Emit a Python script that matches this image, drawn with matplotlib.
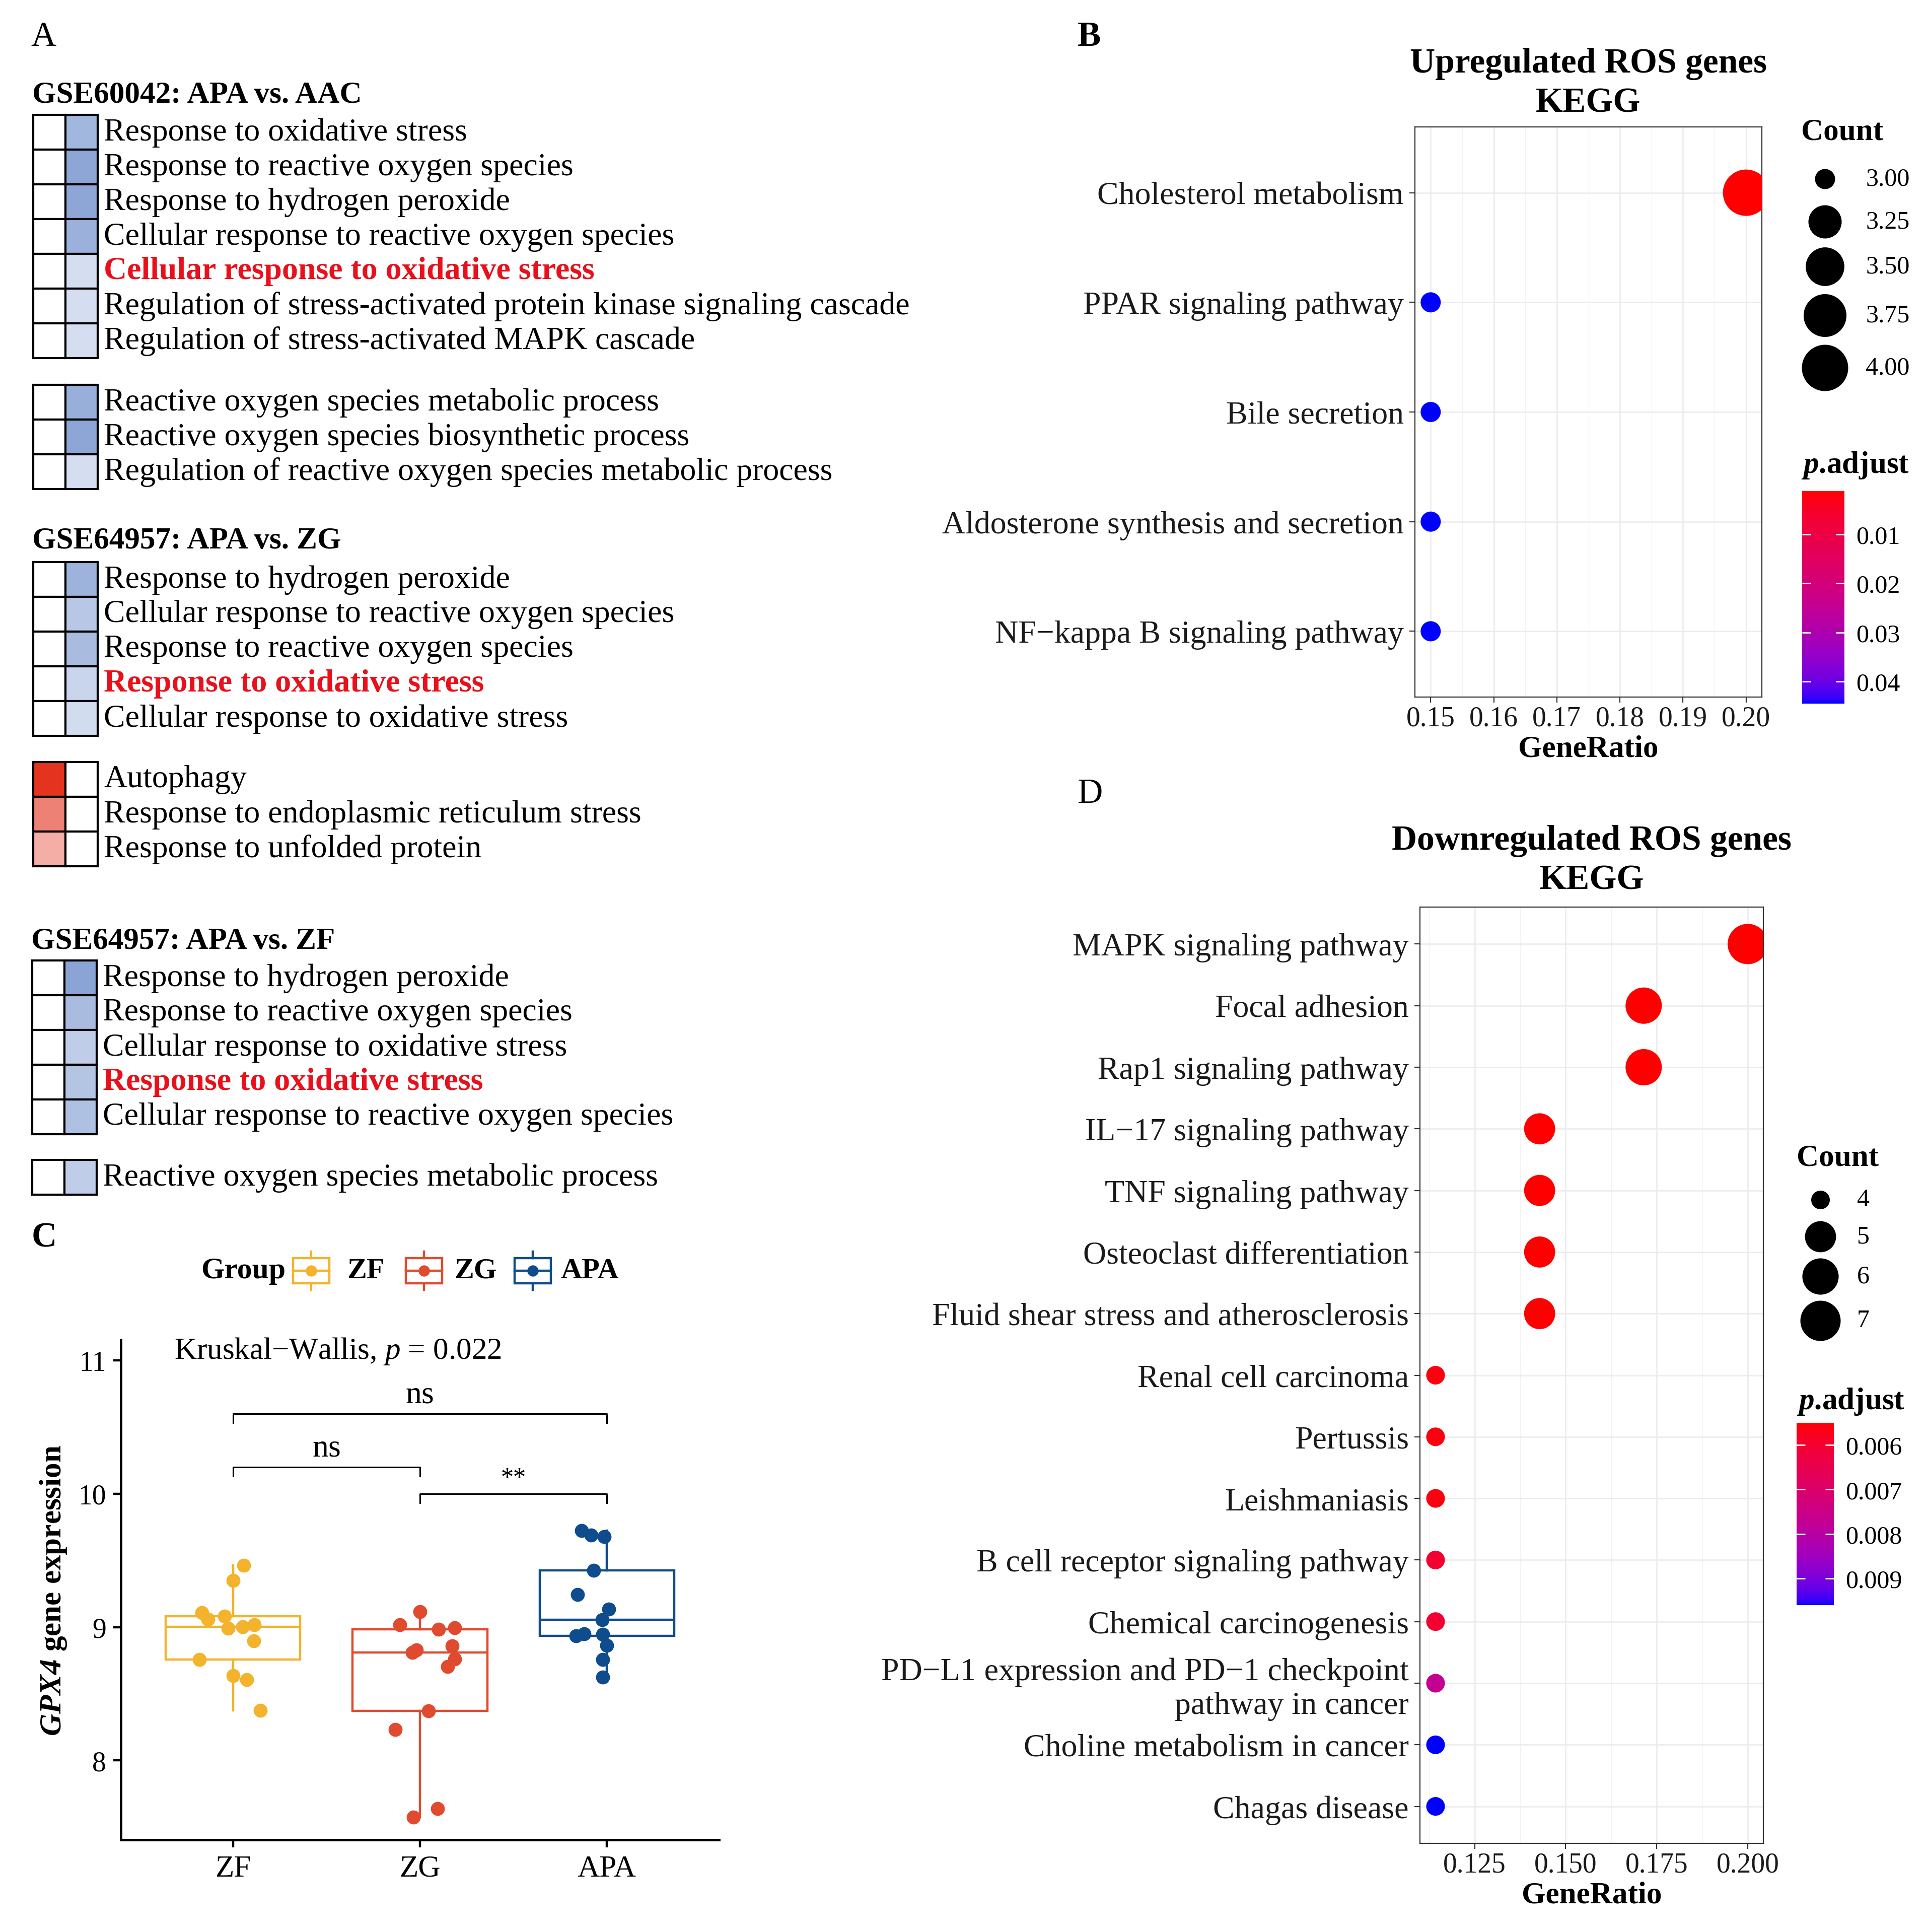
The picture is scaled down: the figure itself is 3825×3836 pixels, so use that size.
import numpy as np
import matplotlib
matplotlib.use("Agg")
import matplotlib.pyplot as plt
import matplotlib.colors as mcolors
from matplotlib.patches import Rectangle
from matplotlib.cm import ScalarMappable

plt.rcParams["font.family"] = ["Liberation Serif", "DejaVu Serif"]
plt.rcParams["mathtext.fontset"] = "custom"
plt.rcParams["mathtext.rm"] = "Liberation Serif"
plt.rcParams["mathtext.it"] = "Liberation Serif:italic"
plt.rcParams["mathtext.bf"] = "Liberation Serif:bold"
plt.rcParams["mathtext.bfit"] = "Liberation Serif:italic:bold"

# ---------------- data ----------------
# panel A: GO terms, shading of the up (left) and down (right) column
aac_terms = ["Response to oxidative stress", "Response to reactive oxygen species",
             "Response to hydrogen peroxide", "Cellular response to reactive oxygen species",
             "Cellular response to oxidative stress",
             "Regulation of stress-activated protein kinase signaling cascade",
             "Regulation of stress-activated MAPK cascade"]
aac_up = [0, 0, 0, 0, 0, 0, 0]
aac_down = [0.65, 0.8, 0.8, 0.7, 0.3, 0.3, 0.3]
aac_terms2 = ["Reactive oxygen species metabolic process",
              "Reactive oxygen species biosynthetic process",
              "Regulation of reactive oxygen species metabolic process"]
aac_up2 = [0, 0, 0]
aac_down2 = [0.72, 0.8, 0.3]
zg_terms = ["Response to hydrogen peroxide", "Cellular response to reactive oxygen species",
            "Response to reactive oxygen species", "Response to oxidative stress",
            "Cellular response to oxidative stress"]
zg_up = [0, 0, 0, 0, 0]
zg_down = [0.68, 0.5, 0.6, 0.38, 0.32]
zg_terms2 = ["Autophagy", "Response to endoplasmic reticulum stress", "Response to unfolded protein"]
zg_up2 = [1.0, 0.62, 0.4]
zg_down2 = [0, 0, 0]
zf_terms = ["Response to hydrogen peroxide", "Response to reactive oxygen species",
            "Cellular response to oxidative stress", "Response to oxidative stress",
            "Cellular response to reactive oxygen species"]
zf_up = [0, 0, 0, 0, 0]
zf_down = [0.82, 0.6, 0.45, 0.52, 0.56]
zf_terms2 = ["Reactive oxygen species metabolic process"]
zf_up2 = [0]
zf_down2 = [0.45]

# panel B: KEGG, upregulated ROS genes
up_terms = ["Cholesterol metabolism", "PPAR signaling pathway", "Bile secretion",
            "Aldosterone synthesis and secretion", "NF\u2212kappa B signaling pathway"]
up_count = [4, 3, 3, 3, 3]
up_ratio = [0.20, 0.15, 0.15, 0.15, 0.15]
up_padj = [0.0012, 0.0445, 0.0445, 0.0445, 0.0445]

# panel D: KEGG, downregulated ROS genes
down_terms = ["MAPK signaling pathway", "Focal adhesion", "Rap1 signaling pathway",
              "IL\u221217 signaling pathway", "TNF signaling pathway", "Osteoclast differentiation",
              "Fluid shear stress and atherosclerosis", "Renal cell carcinoma", "Pertussis",
              "Leishmaniasis", "B cell receptor signaling pathway", "Chemical carcinogenesis",
              "PD\u2212L1 expression and PD\u22121 checkpoint\npathway in cancer",
              "Choline metabolism in cancer", "Chagas disease"]
down_count = [7, 6, 6, 5, 5, 5, 5, 4, 4, 4, 4, 4, 4, 4, 4]
down_ratio = [c / 35 for c in down_count]
down_padj = [0.0055, 0.0055, 0.0055, 0.0055, 0.0055, 0.0055, 0.0055, 0.0056, 0.0056,
             0.0056, 0.0060, 0.0060, 0.0077, 0.0096, 0.0096]

# panel C: GPX4 expression per group (jitter offsets)
groups = ["ZF", "ZG", "APA"]
gpx4_zf = [9.464, 9.349, 9.108, 9.060, 9.083, 8.992, 9.002, 9.017, 8.896, 8.755, 8.636, 8.607, 8.376]
jit_zf = [0.058, 0.0, -0.166, -0.135, -0.046, -0.027, 0.052, 0.114, 0.110, -0.180, 0.0, 0.073, 0.145]
gpx4_zg = [9.114, 9.017, 8.983, 8.996, 8.857, 8.810, 8.830, 8.761, 8.703, 8.370, 8.231, 7.638, 7.576]
jit_zg = [0.0, -0.108, 0.100, 0.187, 0.172, -0.040, -0.020, 0.187, 0.149, 0.046, -0.131, 0.093, -0.035]
gpx4_apa = [9.724, 9.690, 9.676, 9.426, 9.243, 9.133, 9.056, 8.934, 8.948, 8.944, 8.863, 8.755, 8.626]
jit_apa = [-0.135, -0.083, -0.015, -0.071, -0.156, 0.010, -0.025, -0.164, -0.122, -0.021, 0.0, -0.021, -0.021]
group_colors = ["#F4B32C", "#E04B2F", "#0F4C8E"]
bracket_pairs = [(1, 3), (1, 2), (2, 3)]
bracket_y = [10.60, 10.20, 10.00]
bracket_labels = ["ns", "ns", "**"]

# ---------------- helpers ----------------
W, H = 3825, 3837
M_RGB2XYZ = np.array([[0.4124564, 0.3575761, 0.1804375],
                      [0.2126729, 0.7151522, 0.0721750],
                      [0.0193339, 0.1191920, 0.9503041]])
WHITE = np.array([0.95047, 1.0, 1.08883])


def to_lab(hexcol):
    rgb = np.array(mcolors.to_rgb(hexcol))
    lin = np.where(rgb <= 0.04045, rgb / 12.92, ((rgb + 0.055) / 1.055) ** 2.4)
    xyz = M_RGB2XYZ @ lin / WHITE
    f = np.where(xyz > 0.008856, np.cbrt(xyz), 7.787 * xyz + 16 / 116)
    return np.array([116 * f[1] - 16, 500 * (f[0] - f[1]), 200 * (f[1] - f[2])])


def lab_cmap(low, high, n=256):
    # gradient interpolated in Lab space, like ggplot2
    t = np.linspace(0, 1, n)[:, None]
    lab = to_lab(low) * (1 - t) + to_lab(high) * t
    fy = (lab[:, 0] + 16) / 116
    f = np.stack([fy + lab[:, 1] / 500, fy, fy - lab[:, 2] / 200], axis=1)
    xyz = np.where(f ** 3 > 0.008856, f ** 3, (f - 16 / 116) / 7.787) * WHITE
    lin = np.clip(xyz @ np.linalg.inv(M_RGB2XYZ).T, 0, 1)
    rgb = np.where(lin <= 0.0031308, 12.92 * lin, 1.055 * lin ** (1 / 2.4) - 0.055)
    return mcolors.ListedColormap(np.clip(rgb, 0, 1))


def fbox(x0, y0, x1, y1):
    return [x0 / W, 1 - y1 / H, (x1 - x0) / W, (y1 - y0) / H]


def diam(count, cmin, cmax, dmin, dmax):
    return dmin + (dmax - dmin) * np.sqrt((np.asarray(count) - cmin) / (cmax - cmin))


def px2s(d):
    return (np.asarray(d) * 72 / 100) ** 2


rb_cmap = lab_cmap("#FF0000", "#0000FF")
blue_cmap = mcolors.LinearSegmentedColormap.from_list("b", ["white", "#7090CC"])
red_cmap = mcolors.LinearSegmentedColormap.from_list("r", ["white", "#E43420"])

fig = plt.figure(figsize=(W / 100, H / 100), dpi=100)
ov = fig.add_axes([0, 0, 1, 1])
ov.set_xlim(0, W)
ov.set_ylim(H, 0)
ov.axis("off")

# panel letters
ov.text(86, 74, "A", fontsize=50, ha="center", va="center")
ov.text(2163, 74, "B", fontsize=50, weight="bold", ha="center", va="center")
ov.text(88, 2459, "C", fontsize=50, weight="bold", ha="center", va="center")
ov.text(2165, 1577, "D", fontsize=50, ha="center", va="center")

# ---------------- panel A ----------------
ROW, CELL = 69, 64
blocks = [
    ("GSE60042: APA vs. AAC", 189, 229, 66, aac_terms, aac_up, aac_down, 4),
    (None, 0, 765, 66, aac_terms2, aac_up2, aac_down2, None),
    ("GSE64957: APA vs. ZG", 1074, 1117, 66, zg_terms, zg_up, zg_down, 3),
    (None, 0, 1514, 66, zg_terms2, zg_up2, zg_down2, None),
    ("GSE64957: APA vs. ZF", 1869, 1908, 64, zf_terms, zf_up, zf_down, 3),
    (None, 0, 2304, 64, zf_terms2, zf_up2, zf_down2, None),
]
for title, ty, top, x0, terms, up, down, hl in blocks:
    if title:
        ov.text(x0 - 2, ty, title, fontsize=44, weight="bold", va="center")
    for i, term in enumerate(terms):
        yy = top + i * ROW
        ov.add_patch(Rectangle((x0, yy), CELL, ROW, fc=red_cmap(up[i]), ec="black", lw=3))
        ov.add_patch(Rectangle((x0 + CELL, yy), CELL, ROW, fc=blue_cmap(down[i]), ec="black", lw=3))
        if i == hl:
            ov.text(x0 + 2 * CELL + 12, yy + ROW / 2, term, fontsize=46, weight="bold",
                    color="#E8101A", va="center")
        else:
            ov.text(x0 + 2 * CELL + 12, yy + ROW / 2, term, fontsize=46, va="center")


# ---------------- panels B and D ----------------
def kegg_dot(box, terms, ratio, count, padj, csize, title, major, minor, fmt, tpad):
    ax = fig.add_axes(fbox(*box))
    y = np.arange(len(terms))
    d = diam(count, *csize)
    ax.scatter(ratio, y, s=px2s(d), c=padj, cmap=rb_cmap, vmin=min(padj), vmax=max(padj),
               linewidths=0, zorder=3)
    span = max(ratio) - min(ratio)
    ax.set_xlim(min(ratio) - 0.05 * span, max(ratio) + 0.05 * span)
    ax.set_ylim(len(terms) - 0.4, -0.6)
    ax.set_yticks(y, terms)
    ax.set_xticks(major, [fmt % v for v in major])
    ax.set_xticks(minor, minor=True)
    ax.grid(which="major", color="#EBEBEB", lw=1.8)
    ax.grid(which="minor", axis="x", color="#F2F2F2", lw=0.9)
    ax.set_axisbelow(True)
    for s in ax.spines.values():
        s.set_color("#333333")
        s.set_linewidth(1.6)
    ax.tick_params(axis="y", which="major", length=8, width=1.6, color="#333333",
                   labelsize=46, pad=8, labelcolor="#1a1a1a")
    ax.tick_params(axis="x", which="major", length=8, width=1.6, color="#333333",
                   labelsize=40, pad=4, labelcolor="#1a1a1a")
    ax.tick_params(axis="x", which="minor", length=0)
    ax.set_xlabel("GeneRatio", fontsize=44, weight="bold", labelpad=4)
    ax.set_title(title, fontsize=50, weight="bold", pad=tpad, linespacing=1.3)
    return ax


axB = kegg_dot((2810, 253, 3499, 1385), up_terms, up_ratio, up_count, up_padj,
               (3, 4, 40, 92), "Upregulated ROS genes\nKEGG",
               [0.15, 0.16, 0.17, 0.18, 0.19, 0.20],
               [0.155, 0.165, 0.175, 0.185, 0.195], "%.2f", 22)
axD = kegg_dot((2820, 1802, 3502, 3661), down_terms, down_ratio, down_count, down_padj,
               (4, 7, 37, 80), "Downregulated ROS genes\nKEGG",
               [0.125, 0.150, 0.175, 0.200],
               [0.1125, 0.1375, 0.1625, 0.1875], "%.3f", 26)


def count_legend(xt, yt, xc, xl, y0, levels, labels, csize, kmin, kpad):
    ov.text(xt, yt, "Count", fontsize=44, weight="bold", va="center")
    d = diam(levels, *csize)
    y = y0
    prev = None
    for di, lab in zip(d, labels):
        h = max(kmin, di + 2 * kpad)
        if prev is not None:
            y += (prev + h) / 2
        ov.scatter([xc], [y], s=px2s(di), c="black", linewidths=0)
        ov.text(xl, y, lab, fontsize=36, va="center")
        prev = h


def padj_bar(xt, yt, box, padj, ticks, fmt):
    ov.text(xt, yt, r"$\mathbfit{p}$.adjust", fontsize=44, weight="bold", va="center")
    cax = fig.add_axes(fbox(*box))
    cb = fig.colorbar(ScalarMappable(norm=mcolors.Normalize(min(padj), max(padj)), cmap=rb_cmap),
                      cax=cax)
    cb.outline.set_visible(False)
    cb.set_ticks(ticks, labels=[fmt % t for t in ticks])
    cax.invert_yaxis()
    cax.tick_params(direction="in", length=12, width=2, color="white", left=True, right=True,
                    labelleft=False, labelright=True, labelsize=36, pad=17)


count_legend(3577, 262, 3624, 3705, 356, [3.0, 3.25, 3.5, 3.75, 4.0],
             ["3.00", "3.25", "3.50", "3.75", "4.00"], (3, 4, 40, 92), 85, 8)
padj_bar(3577, 924, (3579, 976, 3663, 1398), up_padj, [0.01, 0.02, 0.03, 0.04], "%.2f")
count_legend(3568, 2300, 3615, 3688, 2383, [4, 5, 6, 7], ["4", "5", "6", "7"],
             (4, 7, 37, 80), 72, 6)
padj_bar(3568, 2783, (3568, 2826, 3642, 3188), down_padj, [0.006, 0.007, 0.008, 0.009], "%.3f")

# ---------------- panel C ----------------
axC = fig.add_axes(fbox(240, 2662, 1428, 3654))
values = [gpx4_zf, gpx4_zg, gpx4_apa]
jitters = [jit_zf, jit_zg, jit_apa]
pos = np.arange(1, len(groups) + 1)
bp = axC.boxplot(values, positions=pos, widths=0.72, whis=1.5, showfliers=False,
                 showcaps=False, patch_artist=True)
for i, col in enumerate(group_colors):
    bp["boxes"][i].set(facecolor="none", edgecolor=col, linewidth=3.2)
    bp["medians"][i].set(color=col, linewidth=3.2)
    bp["whiskers"][2 * i].set(color=col, linewidth=3.2)
    bp["whiskers"][2 * i + 1].set(color=col, linewidth=3.2)
    axC.scatter(pos[i] + np.array(jitters[i]), values[i], s=400, color=col, linewidths=0, zorder=3)

tip = 0.07
for (g1, g2), yb, lab in zip(bracket_pairs, bracket_y, bracket_labels):
    axC.plot([g1, g1, g2, g2], [yb - tip, yb, yb, yb - tip], color="black", lw=2.2)
    axC.text((g1 + g2) / 2, yb + 0.03, lab, ha="center", va="bottom",
             fontsize=46 if lab == "ns" else 36)
axC.text(0.685, 11.07, "Kruskal\u2212Wallis, $p$ = 0.022", fontsize=44, va="center")

axC.set_xlim(0.4, 3.6)
axC.set_ylim(7.405, 11.15)
axC.set_xticks(pos, groups)
axC.set_yticks([8, 9, 10, 11])
axC.spines[["top", "right"]].set_visible(False)
axC.spines[["left", "bottom"]].set_linewidth(3.6)
axC.tick_params(length=11, width=3.2, labelsize=40, pad=10)
axC.tick_params(axis="x", labelsize=44)
axC.set_ylabel(r"$\mathbfit{GPX4}$ gene expression", fontsize=44, weight="bold", labelpad=14)

# legend of panel C
ov.text(399, 2524, "Group", fontsize=43, weight="bold", va="center")
for kx, lx, g, col in zip([582, 806, 1022], [689, 902, 1113], groups, group_colors):
    ov.add_patch(Rectangle((kx, 2499), 72, 50, fill=False, ec=col, lw=3.2))
    ov.plot([kx, kx + 72], [2524, 2524], color=col, lw=3.2)
    ov.plot([kx + 36, kx + 36], [2486, 2499], color=col, lw=3.2)
    ov.plot([kx + 36, kx + 36], [2549, 2562], color=col, lw=3.2)
    ov.scatter([kx + 36], [2524], s=260, color=col, linewidths=0)
    ov.text(lx, 2524, g, fontsize=42, weight="bold", va="center")

fig.savefig("out.png", dpi=100, facecolor="white")
